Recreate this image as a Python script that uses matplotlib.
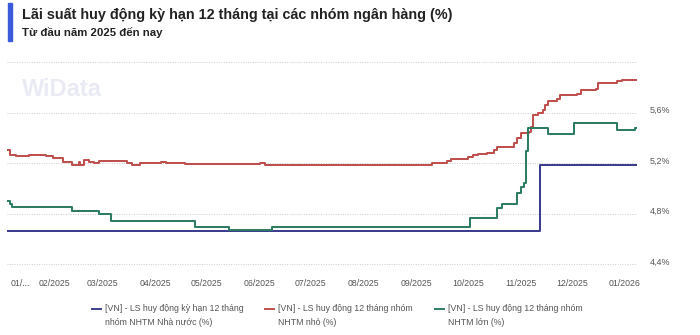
import matplotlib
matplotlib.use("Agg")
import matplotlib.pyplot as plt
import matplotlib.dates as mdates
import matplotlib.transforms as mtransforms
from matplotlib.lines import Line2D
import pandas as pd

plt.rcParams['font.family'] = ['Liberation Sans', 'DejaVu Sans']

# ---------------- data ----------------
blue_dates = ["2025-01-04", "2025-11-12", "2026-01-08"]
blue_vals = [4.667, 5.19, 5.19]

green_dates = ["2025-01-04", "2025-01-06", "2025-01-07", "2025-02-11", "2025-02-27",
               "2025-03-06", "2025-04-24", "2025-05-14", "2025-06-08", "2025-10-02",
               "2025-10-18", "2025-10-21", "2025-10-30", "2025-11-01", "2025-11-03",
               "2025-11-04", "2025-11-05", "2025-11-17", "2025-12-02", "2025-12-27",
               "2026-01-07", "2026-01-08"]
green_vals = [4.90, 4.88, 4.857, 4.823, 4.80,
              4.745, 4.695, 4.672, 4.695, 4.765,
              4.845, 4.878, 4.968, 5.015, 5.04,
              5.30, 5.48, 5.43, 5.515, 5.46,
              5.48, 5.48]

red_dates = ["2025-01-04", "2025-01-06", "2025-01-09", "2025-01-17", "2025-01-27",
             "2025-01-31", "2025-02-06", "2025-02-11", "2025-02-15", "2025-02-16",
             "2025-02-18", "2025-02-21", "2025-02-24", "2025-02-27", "2025-03-15",
             "2025-03-18", "2025-03-23", "2025-04-04", "2025-04-07", "2025-04-18",
             "2025-06-01", "2025-06-04", "2025-06-22", "2025-08-10", "2025-09-10",
             "2025-09-19", "2025-09-21", "2025-10-01", "2025-10-04", "2025-10-07",
             "2025-10-12", "2025-10-16", "2025-10-18", "2025-10-28", "2025-10-30",
             "2025-11-01", "2025-11-06", "2025-11-07", "2025-11-08", "2025-11-11",
             "2025-11-14", "2025-11-15", "2025-11-17", "2025-11-22", "2025-11-24",
             "2025-12-04", "2025-12-06", "2025-12-15", "2025-12-16", "2025-12-27",
             "2025-12-30", "2026-01-08"]
red_vals = [5.305, 5.265, 5.258, 5.268, 5.258,
            5.24, 5.213, 5.19, 5.213, 5.187,
            5.226, 5.21, 5.205, 5.218, 5.20,
            5.187, 5.20, 5.21, 5.205, 5.195,
            5.20, 5.184, 5.19, 5.187, 5.20,
            5.22, 5.234, 5.25, 5.265, 5.273,
            5.284, 5.305, 5.33, 5.36, 5.40,
            5.44, 5.45, 5.49, 5.58, 5.60,
            5.62, 5.66, 5.69, 5.71, 5.74,
            5.75, 5.78, 5.79, 5.837, 5.853,
            5.86, 5.86]

series_labels = [
    "[VN] - LS huy động kỳ hạn 12 tháng\nnhóm NHTM Nhà nước (%)",
    "[VN] - LS huy động 12 tháng nhóm\nNHTM nhỏ (%)",
    "[VN] - LS huy động 12 tháng nhóm\nNHTM lớn (%)",
]
y_ticks = [4.4, 4.8, 5.2, 5.6, 6.0]
y_ticklabels = ["4,4%", "4,8%", "5,2%", "5,6%", ""]
month_ticks = ["2025-02-01", "2025-03-01", "2025-04-01", "2025-05-01", "2025-06-01",
               "2025-07-01", "2025-08-01", "2025-09-01", "2025-10-01", "2025-11-01",
               "2025-12-01", "2026-01-01"]

title = "Lãi suất huy động kỳ hạn 12 tháng tại các nhóm ngân hàng (%)"
subtitle = "Từ đầu năm 2025 đến nay"

c_blue = "#3d3f8e"
c_red = "#c0504d"
c_green = "#2e7d63"
colors = [c_blue, c_red, c_green]

# ---------------- figure ----------------
W, H = 700, 335
fig = plt.figure(figsize=(W / 100, H / 100), dpi=100)
ax = fig.add_axes([7 / W, 1 - 265 / H, 630 / W, (265 - 62) / H])

lw = 1.45
ax.step(pd.to_datetime(blue_dates), blue_vals, where='post', color=c_blue, lw=lw, zorder=3)
ax.step(pd.to_datetime(red_dates), red_vals, where='post', color=c_red, lw=lw, zorder=3)
ax.step(pd.to_datetime(green_dates), green_vals, where='post', color=c_green, lw=lw, zorder=4)

x0 = pd.Timestamp("2025-01-04")
x1 = pd.Timestamp("2026-01-08")
ax.set_xlim(x0, x1)
ax.set_ylim(4.396, 6.0)

for s in ax.spines.values():
    s.set_visible(False)

ax.yaxis.tick_right()
ax.set_yticks(y_ticks)
ax.set_yticklabels(y_ticklabels)
ax.tick_params(axis='y', length=0, pad=9.4, labelsize=6.4, labelcolor='#555555')
offset = mtransforms.ScaledTranslation(0, 3.3 / 100, fig.dpi_scale_trans)
for lab in ax.get_yticklabels():
    lab.set_transform(lab.get_transform() + offset)

ax.set_xticks(pd.to_datetime(month_ticks))
ax.xaxis.set_major_formatter(mdates.DateFormatter("%m/%Y"))
ax.tick_params(axis='x', length=0, pad=10.3, labelsize=6.3, labelcolor='#555555')

ax.grid(axis='y', color='#cccccc', linestyle=(0, (1, 1.5)), linewidth=0.7)
ax.grid(axis='x', visible=False)
ax.set_axisbelow(True)

# truncated first x label
fig.text(11 / W, 1 - 283.3 / H, "01/...", fontsize=6.3, color='#555555',
         ha='left', va='center')

# watermark
fig.text(22 / W, 1 - 89 / H, "WiData", fontsize=17, fontweight='bold',
         color='#e9eaf3', ha='left', va='center', zorder=0)

# title block
fig.patches.append(plt.Rectangle((7.5 / W, 1 - 40.5 / H), 4.5 / W, 37.5 / H,
                                 transform=fig.transFigure, color='#3b5bdb'))
fig.text(22 / W, 1 - 14.5 / H, title, fontsize=10.4, fontweight='bold',
         color='#222222', ha='left', va='center')
fig.text(22 / W, 1 - 32.5 / H, subtitle, fontsize=8.2, fontweight='bold',
         color='#222222', ha='left', va='center')

# legend (manual)
leg_x = [92, 265, 435]
for lx, col, lab in zip(leg_x, colors, series_labels):
    l1, l2 = lab.split("\n")
    fig.add_artist(Line2D([lx / W, (lx + 9) / W], [1 - 308.5 / H, 1 - 308.5 / H],
                          transform=fig.transFigure, color=col, lw=1.4))
    fig.text((lx + 13) / W, 1 - 308.5 / H, l1, fontsize=6.3, color='#555555',
             ha='left', va='center')
    fig.text((lx + 13) / W, 1 - 322.5 / H, l2, fontsize=6.3, color='#555555',
             ha='left', va='center')

fig.savefig("out.png", dpi=100)
